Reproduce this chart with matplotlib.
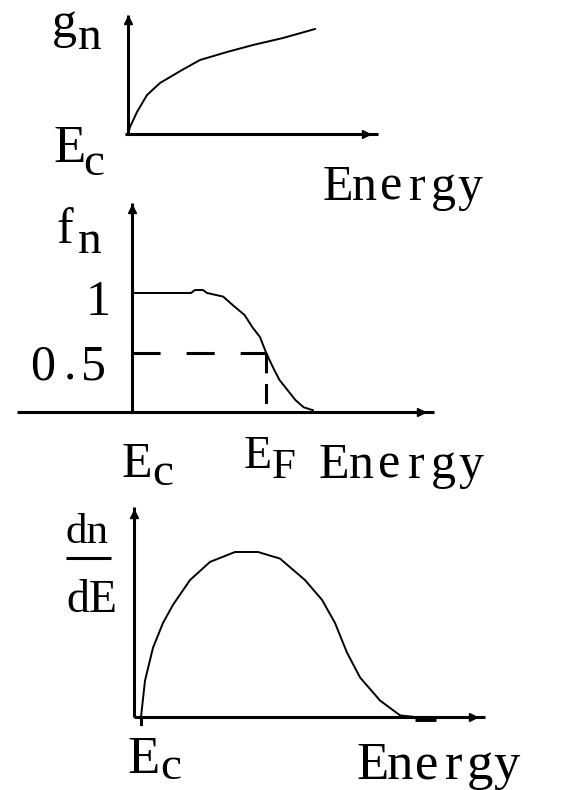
import matplotlib.pyplot as plt

plt.rcParams['font.family'] = ['Liberation Serif', 'DejaVu Serif']

# density of states g_n(E), E measured from E_c
g_energy = [0, 0.02, 0.09, 0.19, 0.32, 0.54, 0.72, 0.99, 1.25, 1.55, 1.87]
g_value = [0, 0.07, 0.22, 0.39, 0.51, 0.64, 0.74, 0.82, 0.89, 0.96, 1.05]

# occupation f_n(E), E in units of E_F
f_energy = [0, 0.44, 0.47, 0.53, 0.56, 0.68, 0.75, 0.84, 0.90, 0.955, 1.0,
            1.05, 1.10, 1.16, 1.22, 1.28, 1.35]
f_value = [1, 1, 1.025, 1.025, 1.0, 0.97, 0.90, 0.815, 0.71, 0.63, 0.5,
           0.38, 0.27, 0.185, 0.10, 0.04, 0.015]
f_half = 0.5
e_fermi = 1.0

# electron density dn/dE
n_energy = [0.07, 0.11, 0.19, 0.29, 0.39, 0.56, 0.76, 1.01, 1.24, 1.46, 1.71,
            1.88, 2.01, 2.13, 2.26, 2.46, 2.66, 2.81]
n_value = [0, 0.22, 0.42, 0.57, 0.68, 0.83, 0.94, 1.0, 1.0, 0.96, 0.83,
           0.71, 0.57, 0.39, 0.24, 0.10, 0.01, 0]

W, H = 585, 790
fig = plt.figure(figsize=(W / 100, H / 100), dpi=100)
fig.patch.set_facecolor('white')

AX_LW = 2.2
CURVE_LW = 1.4


def panel(x0, y0, sx, sy, top, bottom):
    # axes spanning the full width, origin at pixel (x0, y0)
    ax = fig.add_axes([0, 1 - bottom / H, 1, (bottom - top) / H])
    ax.set_xlim(-x0 / sx, (W - x0) / sx)
    ax.set_ylim((y0 - bottom) / sy, (y0 - top) / sy)
    ax.axis('off')
    return ax


def axes_lines(ax, xmin, xmax, xarrow, ytop, yarrow):
    ax.plot([xmin, xmax], [0, 0], color='black', lw=AX_LW, solid_capstyle='butt')
    ax.plot([0, 0], [0, ytop], color='black', lw=AX_LW, solid_capstyle='butt')
    ax.plot([xarrow], [0], marker='>', ms=6, color='black')
    ax.plot([0], [yarrow], marker='^', ms=6, color='black')


# top: g_n
ax1 = panel(128, 134, 100, 100, 0, 230)
axes_lines(ax1, -0.03, 2.5, 2.38, 1.19, 1.14)
ax1.plot(g_energy, g_value, color='black', lw=CURVE_LW)

# middle: f_n
ax2 = panel(132, 412, 134, 119, 190, 490)
axes_lines(ax2, -0.86, 2.25, 2.16, 1.76, 1.71)
ax2.plot(f_energy, f_value, color='black', lw=CURVE_LW)
ax2.plot([0, e_fermi], [f_half, f_half], color='black', lw=AX_LW,
         dashes=(9.2, 8.5))
ax2.plot([e_fermi, e_fermi], [f_half, 0], color='black', lw=AX_LW,
         dashes=(6.5, 3.5))

# bottom: dn/dE
ax3 = panel(134, 717, 100, 165, 490, 790)
axes_lines(ax3, 0, 3.51, 3.39, 1.27, 1.23)
ax3.plot(n_energy, n_value, color='black', lw=CURVE_LW)
ax3.plot([n_energy[0], n_energy[0]], [0, -0.04], color='black', lw=AX_LW)
ax3.plot([n_energy[-1], n_energy[-1] + 0.21], [-0.01, -0.01], color='black', lw=3.5,
         solid_capstyle='butt')

# labels, in pixel coordinates
canvas = fig.add_axes([0, 0, 1, 1])
canvas.set_xlim(0, W)
canvas.set_ylim(H, 0)
canvas.axis('off')


def put(x, y, s, size, ha='left'):
    canvas.text(x, y, s, fontsize=size, ha=ha, va='baseline', color='black')


def spaced(x, y, s, step, size):
    for i, ch in enumerate(s):
        put(x + i * step, y, ch, size, ha='center')


put(52, 37, 'g', 36)
put(78, 49, 'n', 34)
put(53, 162, 'E', 38)
put(83, 175, 'c', 34)
spaced(338, 200, 'Energy', 26.4, 36)

put(57, 243, 'f', 36)
put(78, 253, 'n', 34)
put(98, 315, '1', 36, ha='center')
put(43, 380, '0', 36, ha='center')
put(70, 380, '.', 36, ha='center')
put(93, 380, '5', 36, ha='center')
put(122, 477, 'E', 36)
put(152, 485, 'c', 34)
put(244, 468, 'E', 33)
put(272, 478, 'F', 31)
spaced(334, 478, 'Energy', 27.4, 36)

put(87, 543, 'dn', 31, ha='center')
canvas.plot([66, 111], [558, 558], color='black', lw=2.2, solid_capstyle='butt')
put(92, 612, 'dE', 33, ha='center')
put(127, 773, 'E', 38)
put(160, 779, 'c', 34)
spaced(373, 779, 'Energy', 26.8, 38)

fig.savefig('out.png', dpi=100, facecolor='white')
